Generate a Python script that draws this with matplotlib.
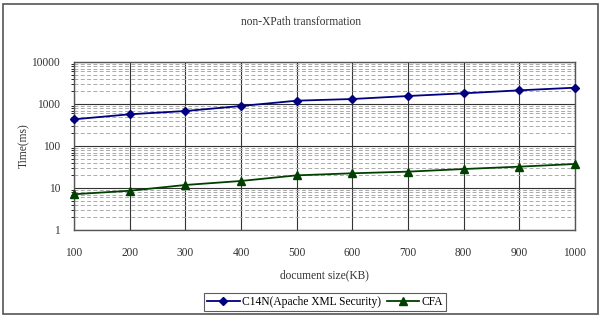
import matplotlib.pyplot as plt
from matplotlib.patches import Rectangle
import numpy as np

plt.rcParams['font.family'] = ['Liberation Serif', 'DejaVu Serif']

# data
sizes = [100, 200, 300, 400, 500, 600, 700, 800, 900, 1000]
c14n = [432, 569, 681, 896, 1199, 1315, 1550, 1796, 2115, 2446]
cfa = [7.1, 8.6, 11.8, 14.7, 20.0, 22.4, 24.5, 28.3, 32.2, 37.3]
yticks = [1, 10, 100, 1000, 10000]

W, H = 601, 319
fig = plt.figure(figsize=(W / 100, H / 100), dpi=100)

# outer frame
fig.patches.append(Rectangle((3 / W, 1 - 314 / H), 595 / W, 310 / H,
                             transform=fig.transFigure, fill=False,
                             edgecolor='#555555', linewidth=1.2))

ax = fig.add_axes([74 / W, 1 - 230 / H, (575 - 74) / W, (230 - 62) / H])
ax.set_yscale('log')
ax.set_ylim(1, 10000)
ax.set_xlim(100, 1000)

ax.set_xticks(sizes)
ax.set_xticklabels([str(s) for s in sizes])
ax.set_yticks(yticks)
ax.set_yticklabels([str(t) for t in yticks])
ax.tick_params(length=0, labelsize=8.3, colors='#333333', pad=10)
ax.tick_params(axis='x', pad=12)

# gridlines
ax.grid(True, which='major', color='#333333', linewidth=0.8, linestyle='-')
ax.grid(True, which='minor', axis='y', color='#aaaaaa', linewidth=0.7,
        linestyle=(0, (4, 2.5)))
ax.set_axisbelow(True)
for sp in ax.spines.values():
    sp.set_color('#555555')
    sp.set_linewidth(1.0)

ax.plot(sizes, c14n, color='#000080', marker='D', markersize=4.5,
        linewidth=1.3, label='C14N(Apache XML Security)', clip_on=False,
        zorder=5)
ax.plot(sizes, cfa, color='#004000', marker='^', markersize=5.5,
        linewidth=1.3, label='CFA', clip_on=False, zorder=5)

fig.text(301 / W, 1 - 22 / H, 'non-XPath transformation', ha='center',
         va='center', fontsize=8.3, color='#333333')
ax.set_xlabel('document size(KB)', fontsize=8.3, color='#333333', labelpad=8)
ax.set_ylabel('Time(ms)', fontsize=8.3, color='#333333')
ax.yaxis.set_label_coords((30 - 74) / 501, 0.5)

leg = ax.legend(loc='center', bbox_to_anchor=(325 / W, 1 - 302 / H),
                bbox_transform=fig.transFigure, ncol=2, fontsize=8.3,
                frameon=True, fancybox=False, edgecolor='#333333',
                handlelength=2.8, handletextpad=0.2, columnspacing=0.5,
                borderpad=0.3)
leg.get_frame().set_linewidth(0.8)

fig.savefig('out.png', dpi=100)
